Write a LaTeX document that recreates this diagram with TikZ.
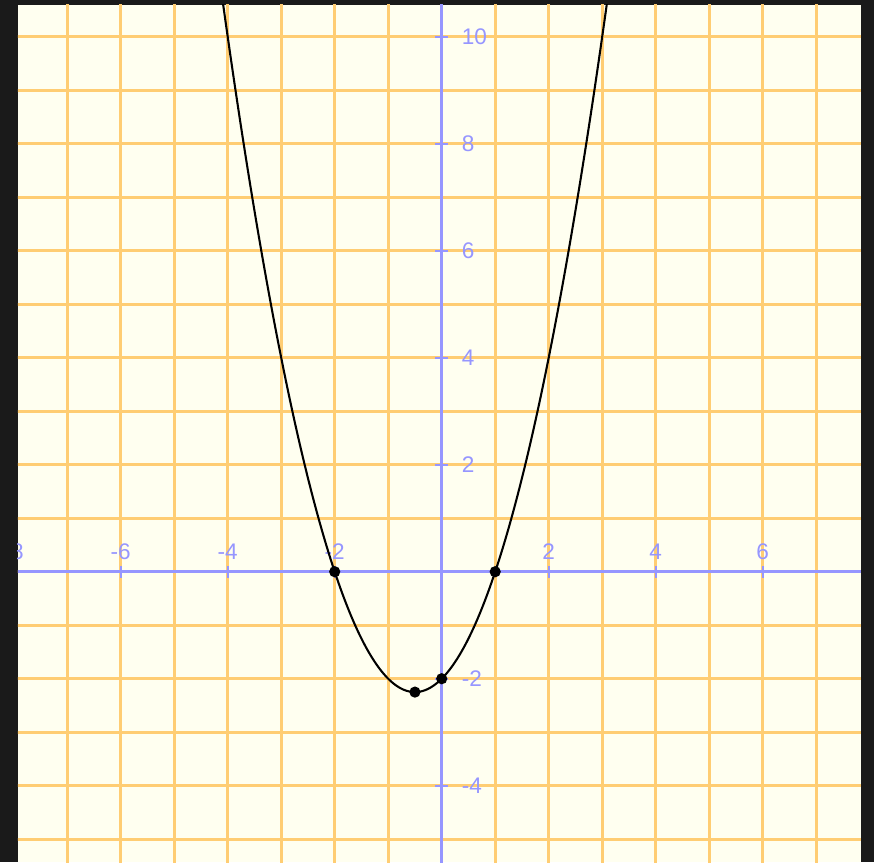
\documentclass[tikz,border=0pt]{standalone}
\usepackage{fontspec}
\setmainfont{Liberation Sans}
\definecolor{board}{RGB}{26,26,26}
\definecolor{paper}{RGB}{255,255,240}
\definecolor{gridor}{RGB}{255,205,115}
\definecolor{axblue}{RGB}{150,150,255}
\begin{document}
\begin{tikzpicture}[x=1cm,y=1cm,
  gridline/.style={gridor, line width=1.4pt},
  axisline/.style={axblue, line width=1.3pt},
  tickmark/.style={axblue, line width=1.1pt},
  ticklbl/.style={text=axblue, font=\fontsize{12}{14}\selectfont, inner sep=0pt},
  dot/.style={circle, fill=black, inner sep=0pt, minimum size=0.21cm},
  curve/.style={black, line width=1.1pt}]
\fill[board] (-8.256,-5.426) rectangle (8.080,10.686);
\useasboundingbox (-8.256,-5.426) rectangle (8.080,10.686);
\fill[paper] (-7.92,-5.426) rectangle (7.837,10.593);
\begin{scope}
  \clip (-7.92,-5.426) rectangle (7.837,10.593);
  \foreach \xx in {-7,...,7} \draw[gridline] (\xx,-5.5) -- (\xx,10.7);
  \foreach \yy in {-5,...,10} \draw[gridline] (-8.3,\yy) -- (8.3,\yy);
  \draw[axisline] (-8.3,0) -- (8.3,0);
  \draw[axisline] (0,-5.5) -- (0,10.7);
  \foreach \xx [count=\k] in {-8,-6,-4,-2,2,4,6} {
    \draw[tickmark] (\xx,-0.11) -- (\xx,0.11);
    \node[ticklbl] (xl\k) at (\xx,0.38) {\xx};
  }
  \foreach \yy [count=\k] in {-4,-2,2,4,6,8,10} {
    \draw[tickmark] (-0.12,\yy) -- (0.12,\yy);
    \node[ticklbl, anchor=west] (yl\k) at (0.37,\yy) {\yy};
  }
  \draw[curve, domain=-4.3:3.3, samples=240, smooth] plot (\x, {\x*\x+\x-2});
  \node[dot] (r1) at (-2,0) {};
  \node[dot] (r2) at (1,0) {};
  \node[dot] (vx) at (-0.5,-2.25) {};
  \node[dot] (yi) at (0,-2) {};
\end{scope}
\end{tikzpicture}
\end{document}
